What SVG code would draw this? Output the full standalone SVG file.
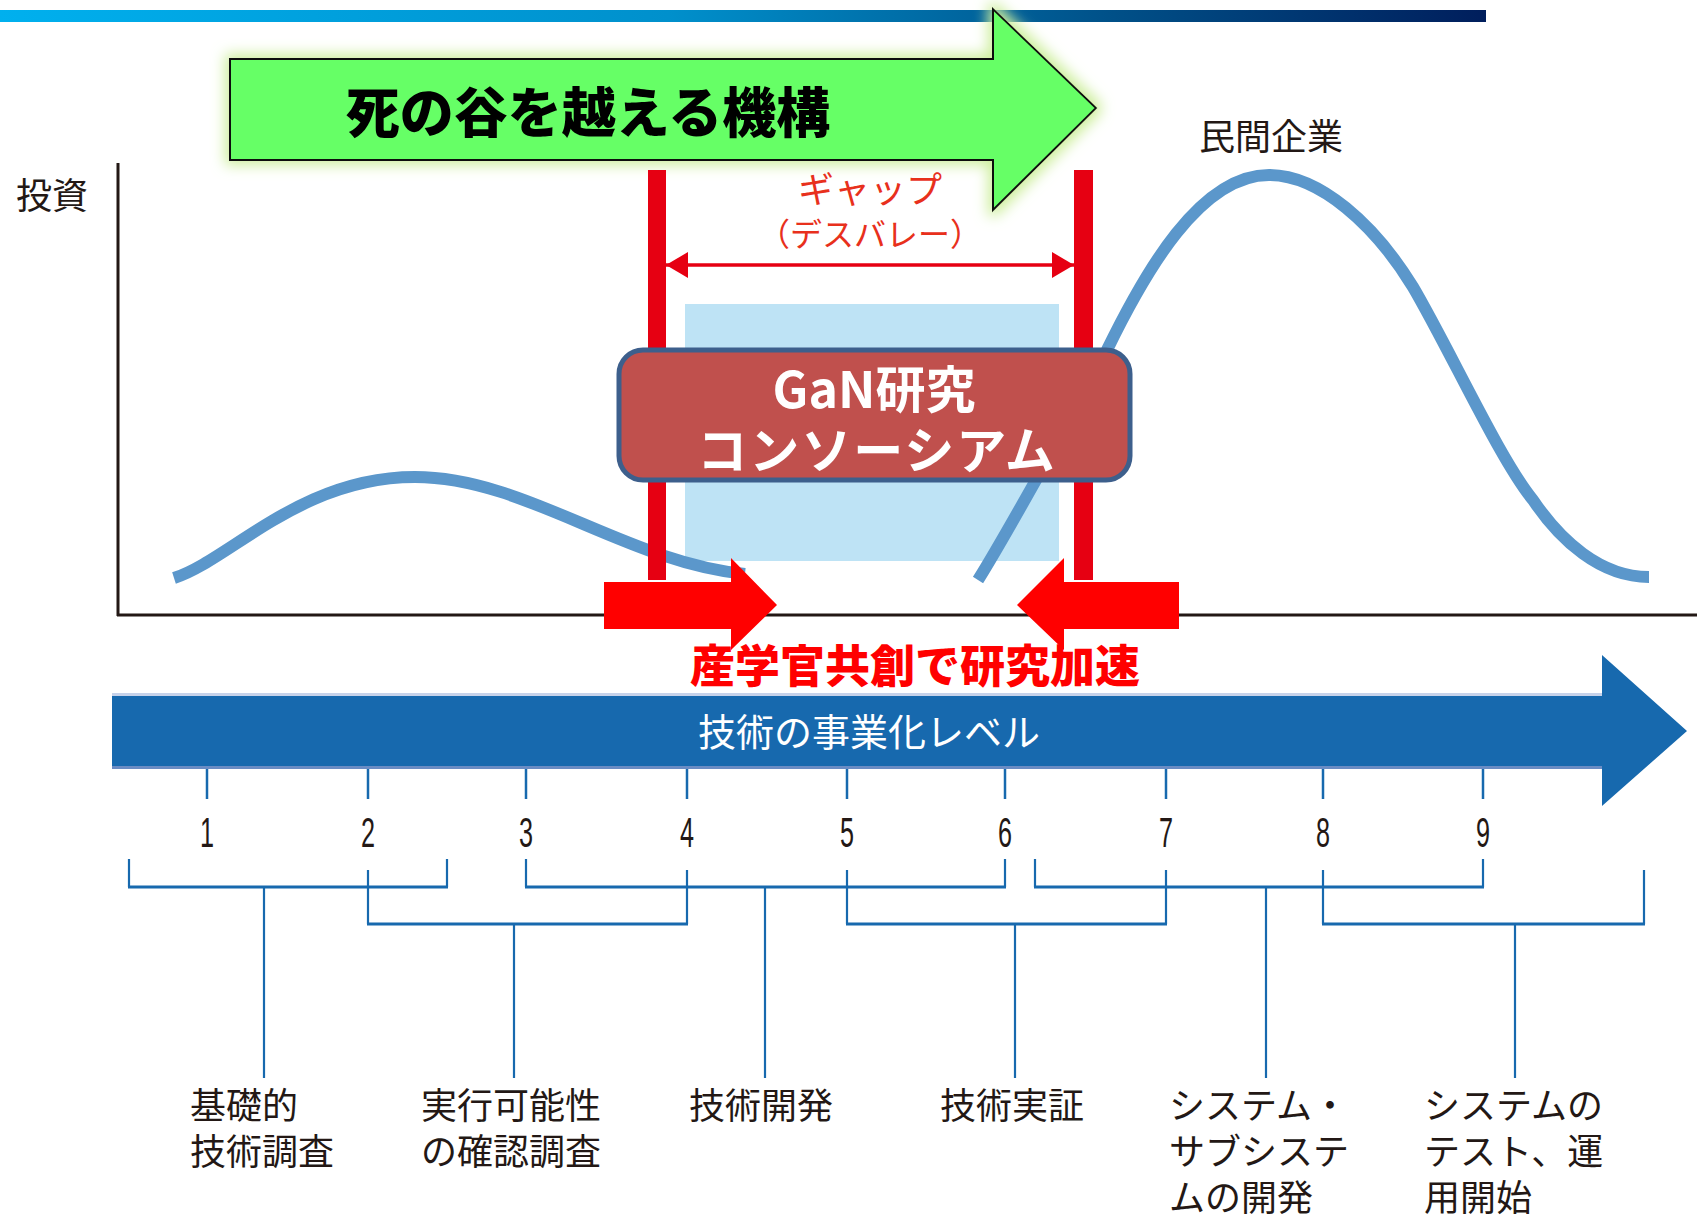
<svg xmlns="http://www.w3.org/2000/svg" width="1697" height="1218" viewBox="0 0 1697 1218">
<defs>
<linearGradient id="topbar" x1="0" y1="0" x2="1" y2="0">
<stop offset="0" stop-color="#00b0ee"/>
<stop offset="0.45" stop-color="#0090cc"/>
<stop offset="0.75" stop-color="#005088"/>
<stop offset="1" stop-color="#001e5c"/>
</linearGradient>
<filter id="glow" x="-10%" y="-25%" width="120%" height="150%">
<feMorphology in="SourceAlpha" operator="dilate" radius="4" result="d"/>
<feGaussianBlur in="d" stdDeviation="7" result="b"/>
<feFlood flood-color="#cdee9c"/>
<feComposite in2="b" operator="in" result="g"/>
<feMerge><feMergeNode in="g"/><feMergeNode in="SourceGraphic"/></feMerge>
</filter>
<marker id="ah" viewBox="0 0 22 26" refX="22" refY="13" markerWidth="22" markerHeight="26" markerUnits="userSpaceOnUse" orient="auto-start-reverse">
<path d="M0,0 L22,13 L0,26 z" fill="#e60012"/>
</marker>
<style>
.jp{font-family:"Noto Sans CJK JP","Noto Sans",sans-serif;}
.lbl{font-family:"Noto Sans CJK JP","Noto Sans",sans-serif;font-size:36px;fill:#231815;}
.num{font-family:"Liberation Sans","Noto Sans",sans-serif;font-size:42px;fill:#231815;text-anchor:middle;}
.curve{fill:none;stroke:#5b97cb;stroke-width:12;stroke-linecap:butt;}
.redbar{fill:#e60012;}
.blk{fill:#ff0000;}
.br{fill:none;stroke:#1769ae;stroke-width:3;}
.brv{fill:none;stroke:#1769ae;stroke-width:2.2;}
.tick{stroke:#1769ae;stroke-width:2.5;}
</style>
</defs>
<rect width="1697" height="1218" fill="#ffffff"/>

<g id="top-bar"><rect x="0" y="10" width="1486" height="12" fill="url(#topbar)"/></g>

<g id="mechanism-arrow">
<polygon points="230,59 993,59 993,9 1096,108 993,210 993,160 230,160" fill="#66ff66" stroke="#111" stroke-width="2" filter="url(#glow)"/>
<text class="jp" x="588" y="133" font-size="54" font-weight="900" text-anchor="middle" fill="#000">死の谷を越える機構</text>
</g>

<g id="axes">
<line x1="118" y1="163" x2="118" y2="616" stroke="#231815" stroke-width="3"/>
<line x1="117" y1="615" x2="1697" y2="615" stroke="#231815" stroke-width="3"/>
<text class="lbl" x="16" y="209">投資</text>
</g>

<g id="gap-zone"><rect x="685" y="304" width="374" height="257" fill="#bee3f5"/></g>

<g id="curves">
<path class="curve" d="M174,578 C230,560 300,477 415,477 C525,477 625,562 745,574"/>
<path class="curve" d="M978,580 C1000,545 1075,412 1107,350 C1145,272 1200,175 1269,175 C1320,175 1375,225 1413,287 C1450,350 1500,460 1533,500 C1560,540 1600,577 1649,577"/>
<text class="lbl" x="1271" y="150" text-anchor="middle" fill="#333">民間企業</text>
</g>

<g id="gap-bars">
<rect class="redbar" x="648" y="170" width="18" height="410"/>
<rect class="redbar" x="1074" y="170" width="19" height="410"/>
</g>

<g id="gap-label">
<line x1="666" y1="265" x2="1074" y2="265" stroke="#e60012" stroke-width="3.5" marker-start="url(#ah)" marker-end="url(#ah)"/>
<text class="jp" x="870" y="203" font-size="36" text-anchor="middle" fill="#e8301c">ギャップ</text>
<text class="jp" x="870" y="246" font-size="32" text-anchor="middle" fill="#e8301c">（デスバレー）</text>
</g>

<g id="gan-consortium">
<rect x="619" y="350" width="511" height="130" rx="24" fill="#c0504d" stroke="#3d5f8c" stroke-width="5"/>
<text class="jp" x="874" y="408" font-size="50" font-weight="bold" text-anchor="middle" fill="#ffffff">GaN研究</text>
<text class="jp" x="877" y="469" font-size="50" font-weight="bold" text-anchor="middle" fill="#ffffff" letter-spacing="2">コンソーシアム</text>
</g>

<g id="push-arrows">
<polygon class="blk" points="604,582 731,582 731,558 777,605 731,650 731,629 604,629"/>
<polygon class="blk" points="1179,582 1064,582 1064,558 1017,605 1064,650 1064,629 1179,629"/>
<text class="jp" x="915" y="683" font-size="45" font-weight="900" text-anchor="middle" fill="#ff0000">産学官共創で研究加速</text>
</g>

<g id="level-arrow">
<polygon points="112,693 1602,693 1602,655 1687,731 1602,806 1602,769 112,769" fill="#1769ae"/>
<line x1="112" y1="694.5" x2="1602" y2="694.5" stroke="#c6d2ea" stroke-width="3"/>
<line x1="112" y1="767.5" x2="1602" y2="767.5" stroke="#6a8cc4" stroke-width="3"/>
<text class="jp" x="869" y="746" font-size="38" text-anchor="middle" fill="#ffffff">技術の事業化レベル</text>
</g>

<g id="connectors">
<g id="ticks">
<line class="tick" x1="207" y1="769" x2="207" y2="799"/>
<line class="tick" x1="368" y1="769" x2="368" y2="799"/>
<line class="tick" x1="526" y1="769" x2="526" y2="799"/>
<line class="tick" x1="687" y1="769" x2="687" y2="799"/>
<line class="tick" x1="847" y1="769" x2="847" y2="799"/>
<line class="tick" x1="1005" y1="769" x2="1005" y2="799"/>
<line class="tick" x1="1166" y1="769" x2="1166" y2="799"/>
<line class="tick" x1="1323" y1="769" x2="1323" y2="799"/>
<line class="tick" x1="1483" y1="769" x2="1483" y2="799"/>
</g>
<g id="brackets">
<path class="brv" d="M129,859 V887 M447,859 V887 M264,887 V1078"/>
<path class="br" d="M128,887 H448"/>
<path class="brv" d="M368,870 V924 M687,870 V924 M514,924 V1078"/>
<path class="br" d="M367,924 H688"/>
<path class="brv" d="M526,859 V887 M1005,859 V887 M765,887 V1078"/>
<path class="br" d="M525,887 H1006"/>
<path class="brv" d="M847,870 V924 M1166,870 V924 M1015,924 V1078"/>
<path class="br" d="M846,924 H1167"/>
<path class="brv" d="M1035,859 V887 M1483,859 V887 M1266,887 V1078"/>
<path class="br" d="M1034,887 H1484"/>
<path class="brv" d="M1323,870 V924 M1644,870 V924 M1515,924 V1078"/>
<path class="br" d="M1322,924 H1645"/>
</g>
</g>

<g id="numbers">
<text class="num" transform="translate(207,847) scale(0.6,1)">1</text>
<text class="num" transform="translate(368,847) scale(0.6,1)">2</text>
<text class="num" transform="translate(526,847) scale(0.6,1)">3</text>
<text class="num" transform="translate(687,847) scale(0.6,1)">4</text>
<text class="num" transform="translate(847,847) scale(0.6,1)">5</text>
<text class="num" transform="translate(1005,847) scale(0.6,1)">6</text>
<text class="num" transform="translate(1166,847) scale(0.6,1)">7</text>
<text class="num" transform="translate(1323,847) scale(0.6,1)">8</text>
<text class="num" transform="translate(1483,847) scale(0.6,1)">9</text>
</g>

<g id="stage-1"><text class="lbl" x="190" y="1119">基礎的</text><text class="lbl" x="190" y="1165">技術調査</text></g>
<g id="stage-2"><text class="lbl" x="421" y="1119">実行可能性</text><text class="lbl" x="421" y="1165">の確認調査</text></g>
<g id="stage-3"><text class="lbl" x="689" y="1119">技術開発</text></g>
<g id="stage-4"><text class="lbl" x="940" y="1119">技術実証</text></g>
<g id="stage-5"><text class="lbl" x="1169" y="1119">システム・</text><text class="lbl" x="1169" y="1165">サブシステ</text><text class="lbl" x="1169" y="1211">ムの開発</text></g>
<g id="stage-6"><text class="lbl" x="1424" y="1119">システムの</text><text class="lbl" x="1424" y="1165">テスト、運</text><text class="lbl" x="1424" y="1211">用開始</text></g>
</svg>
